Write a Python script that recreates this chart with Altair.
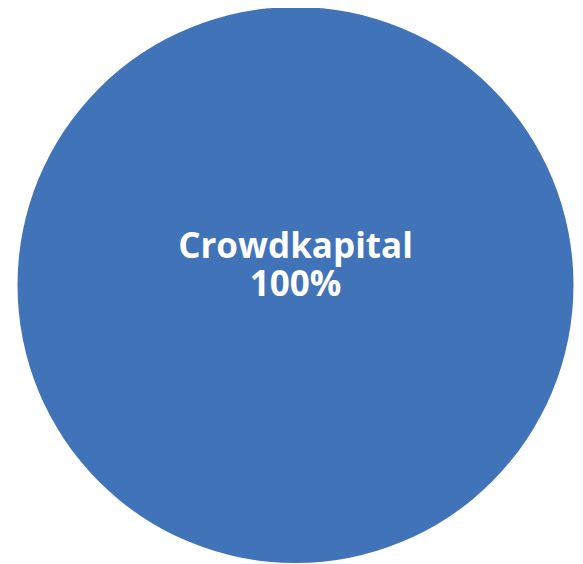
import altair as alt
import pandas as pd

categories = ["Crowdkapital"]
values = [100]
percent_labels = ["100%"]

df = pd.DataFrame({"category": categories, "value": values, "pct": percent_labels})

W, H = 567, 556
CX, CY, R = 287.5, 277, 278

base = alt.Chart(df)

pie = base.mark_arc(outerRadius=R).encode(
    theta=alt.Theta("value:Q", stack=True),
    color=alt.Color("category:N", scale=alt.Scale(range=["#4073B7"]), legend=None),
    x=alt.value(CX),
    y=alt.value(CY),
)

text_style = dict(font="Open Sans", fontWeight="bold", fontSize=35, color="white",
                  align="center", baseline="alphabetic")

label_cat = base.mark_text(**text_style).encode(
    x=alt.value(CX), y=alt.value(250), text="category:N",
)
label_pct = base.mark_text(**text_style).encode(
    x=alt.value(CX), y=alt.value(288), text="pct:N",
)

chart = alt.layer(pie, label_cat, label_pct).properties(
    width=W, height=H, padding=0,
    autosize=alt.AutoSizeParams(type="none"),
).configure(background="white").configure_view(stroke=None, strokeWidth=0)

chart.save("out.html", embed_options={"renderer": "svg", "actions": False})
